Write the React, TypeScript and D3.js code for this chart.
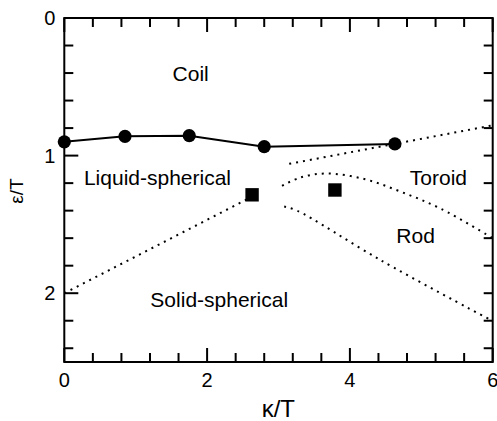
import React from "react";
import * as d3 from "d3";

// Phase boundary between coil and collapsed states (solid line with circles)
const coilBoundaryK = [0, 0.85, 1.75, 2.8, 4.63];
const coilBoundaryEps = [0.9, 0.86, 0.855, 0.935, 0.915];

// Square markers (triple points)
const squareK = [2.63, 3.79];
const squareEps = [1.285, 1.25];

// Dotted boundaries
const solidLiquidK = [0, 2.55];
const solidLiquidEps = [2.0, 1.32];

const toroidUpperK = [3.15, 6.0];
const toroidUpperEps = [1.06, 0.78];

const rodUpperK = [3.05, 3.3, 3.67, 4.2, 4.7, 5.27, 6.0];
const rodUpperEps = [1.22, 1.16, 1.13, 1.17, 1.26, 1.385, 1.6];

const rodLowerK = [3.08, 3.26, 4.43, 5.92, 6.0];
const rodLowerEps = [1.37, 1.4, 1.76, 2.18, 2.2];

// Region labels
const regionNames = ["Coil", "Liquid-spherical", "Toroid", "Rod", "Solid-spherical"];
const regionK = [1.77, 1.305, 5.24, 4.92, 2.17];
const regionEps = [0.458, 1.214, 1.214, 1.637, 2.1];

// Axis ticks
const xTickLabels = [0, 2, 4, 6];
const yTickLabels = [0, 1, 2];

const W = 497;
const H = 421;
const FONT = "'Liberation Sans', Arial, Helvetica, sans-serif";

export default function App() {
  const x = d3.scaleLinear().domain([0, 6]).range([64.3, 492.7]);
  const y = d3.scaleLinear().domain([0, 2.5]).range([18, 362]);

  const xMinor = d3.range(0, 6.001, 0.4).map((v) => +v.toFixed(2));
  const yMinor = d3.range(0, 2.45, 0.2).map((v) => +v.toFixed(2));
  const isMajor = (v: number) => Math.abs(v - Math.round(v)) < 1e-6;
  const isMajorX = (v: number) => Math.abs(v / 2 - Math.round(v / 2)) < 1e-6;

  const zip = (a: number[], b: number[]) => a.map((v, i) => [v, b[i]] as [number, number]);

  const straight = d3
    .line<[number, number]>()
    .x((d) => x(d[0]))
    .y((d) => y(d[1]));
  const smooth = d3
    .line<[number, number]>()
    .x((d) => x(d[0]))
    .y((d) => y(d[1]))
    .curve(d3.curveCatmullRom.alpha(0.5));

  const [x0, x1] = x.range();
  const [y0, y1] = y.range();
  const majorLen = 14;
  const minorLen = 9;
  const dotted = { fill: "none", stroke: "#000", strokeWidth: 2, strokeDasharray: "2 5" };

  return (
    <svg
      width={W}
      height={H}
      style={{ position: "absolute", left: 0, top: 0, background: "#fff" }}
      fontFamily={FONT}
    >
      <rect width={W} height={H} fill="#fff" />

      {/* dotted phase boundaries */}
      <path d={straight(zip(solidLiquidK, solidLiquidEps)) || ""} {...dotted} />
      <path d={straight(zip(toroidUpperK, toroidUpperEps)) || ""} {...dotted} />
      <path d={smooth(zip(rodUpperK, rodUpperEps)) || ""} {...dotted} />
      <path d={smooth(zip(rodLowerK, rodLowerEps)) || ""} {...dotted} />

      {/* coil boundary */}
      <path d={straight(zip(coilBoundaryK, coilBoundaryEps)) || ""} fill="none" stroke="#000" strokeWidth={2} />
      {coilBoundaryK.map((k, i) => (
        <circle key={i} cx={x(k)} cy={y(coilBoundaryEps[i])} r={6.6} fill="#000" />
      ))}
      {squareK.map((k, i) => (
        <rect key={i} x={x(k) - 6.7} y={y(squareEps[i]) - 6.7} width={13.4} height={13.4} fill="#000" />
      ))}

      {/* frame */}
      <rect x={x0} y={y0} width={x1 - x0} height={y1 - y0} fill="none" stroke="#000" strokeWidth={2} />

      {/* x ticks: bottom and top, pointing inward */}
      {xMinor.map((v) => {
        const len = isMajorX(v) ? majorLen : minorLen;
        return (
          <g key={"xt" + v}>
            <line x1={x(v)} x2={x(v)} y1={y1} y2={y1 - len} stroke="#000" strokeWidth={2} />
            <line x1={x(v)} x2={x(v)} y1={y0} y2={y0 + len} stroke="#000" strokeWidth={2} />
          </g>
        );
      })}
      {/* y ticks: left with majors, right all short */}
      {yMinor.map((v) => (
        <g key={"yt" + v}>
          <line x1={x0} x2={x0 + (isMajor(v) ? majorLen : minorLen)} y1={y(v)} y2={y(v)} stroke="#000" strokeWidth={2} />
          <line x1={x1} x2={x1 - minorLen} y1={y(v)} y2={y(v)} stroke="#000" strokeWidth={2} />
        </g>
      ))}

      {/* tick labels */}
      {xTickLabels.map((v) => (
        <text key={"xl" + v} x={x(v)} y={y1 + 25} textAnchor="middle" fontSize={20}>
          {v}
        </text>
      ))}
      {yTickLabels.map((v) => (
        <text key={"yl" + v} x={x0 - 9} y={y(v) + 7.2} textAnchor="end" fontSize={20}>
          {v}
        </text>
      ))}

      {/* axis titles */}
      <text x={278.3} y={417} textAnchor="middle" fontSize={24}>
        κ/T
      </text>
      <text transform={`translate(23,191) rotate(-90)`} textAnchor="middle" fontSize={19}>
        ε/T
      </text>

      {/* region labels */}
      {regionNames.map((name, i) => (
        <text key={name} x={x(regionK[i])} y={y(regionEps[i])} textAnchor="middle" fontSize={21}>
          {name}
        </text>
      ))}
    </svg>
  );
}
